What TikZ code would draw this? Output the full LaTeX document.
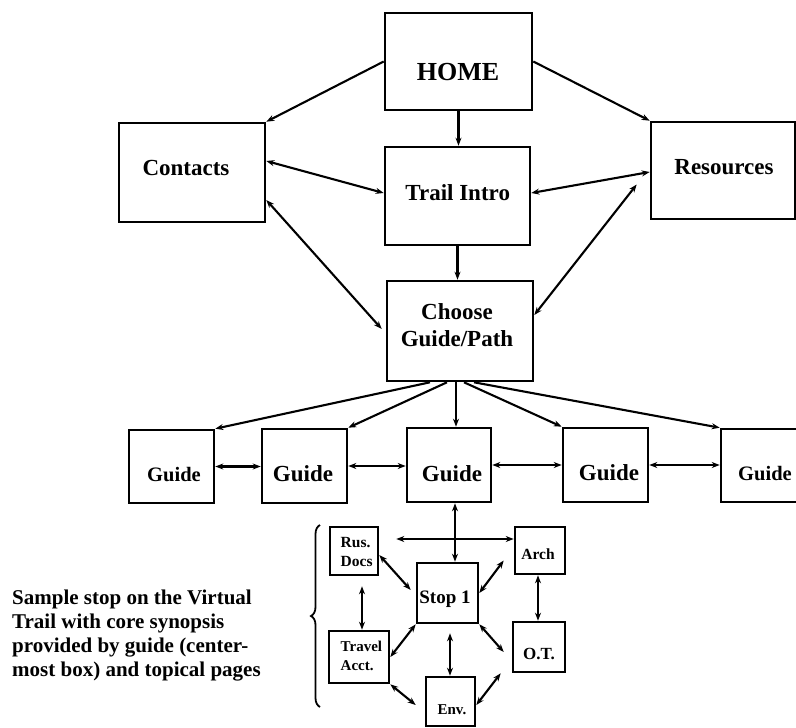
\documentclass[tikz,border=0pt]{standalone}
\usepackage{fontspec}
\setmainfont{Liberation Serif}
\usetikzlibrary{arrows.meta,calc,decorations.pathreplacing}
\begin{document}
\begin{tikzpicture}[x=1pt,y=-1pt,
  >={Stealth[length=8pt,width=6pt]},
  box/.style={draw, line width=2.6pt, inner sep=0pt},
  con/.style={line width=2.1pt},
  lbl/.style={inner sep=0pt, text depth=0pt, font=\bfseries\fontsize{23}{27}\selectfont},
  lblbig/.style={inner sep=0pt, text depth=0pt, font=\bfseries\fontsize{26}{29}\selectfont},
  lblsm/.style={inner sep=0pt, text depth=0pt, font=\bfseries\fontsize{20.5}{24}\selectfont},
  lbltiny/.style={inner sep=0pt, font=\bfseries\fontsize{15.5}{19}\selectfont}
]
\path[fill=white] (0,0) rectangle (796,728);
\useasboundingbox (0,0) rectangle (796,728);

% boxes
\node[box, minimum width=147pt, minimum height=97pt] (home) at (458.5,61.5) {};
\node[box, minimum width=146pt, minimum height=99pt] (contacts) at (192,172.5) {};
\node[box, minimum width=145pt, minimum height=98pt] (trail) at (457.5,196) {};
\node[box, minimum width=144pt, minimum height=97pt] (resources) at (723,170.5) {};
\node[box, minimum width=146pt, minimum height=100pt] (choose) at (460,331) {};
\node[box, minimum width=85pt, minimum height=73pt] (g1) at (171.5,466.5) {};
\node[box, minimum width=85pt, minimum height=74pt] (g2) at (304.5,466) {};
\node[box, minimum width=84pt, minimum height=74pt] (g3) at (449,465) {};
\node[box, minimum width=85pt, minimum height=74pt] (g4) at (605.5,465) {};
\node[box, minimum width=88pt, minimum height=73pt] (g5) at (765,465.5) {};
\node[box, minimum width=48pt, minimum height=48pt] (rus) at (354,551) {};
\node[box, minimum width=50pt, minimum height=47pt] (arch) at (540,550.5) {};
\node[box, minimum width=61pt, minimum height=60pt] (stop) at (447.5,593) {};
\node[box, minimum width=60pt, minimum height=52pt] (travel) at (359,657) {};
\node[box, minimum width=52pt, minimum height=50pt] (ot) at (539,647) {};
\node[box, minimum width=49pt, minimum height=49pt] (env) at (450.5,701.5) {};

% labels
\node[lblbig] (home-t) at (458,72) {HOME};
\node[lbl] (contacts-t) at (186,168) {Contacts};
\node[lbl] (trail-t) at (457.7,193) {Trail Intro};
\node[lbl] (resources-t) at (724,167) {Resources};
\node[inner sep=0pt, align=center, font=\bfseries\fontsize{23}{27}\selectfont] (choose-t) at (457,325.5) {Choose\\Guide/Path};
\node[lblsm] (g1-t) at (174,474) {Guide};
\node[lbl] (g2-t) at (303,474) {Guide};
\node[lbl] (g3-t) at (452,474) {Guide};
\node[lbl] (g4-t) at (609,473) {Guide};
\node[lblsm] (g5-t) at (765,473) {Guide};
\node[lbltiny, align=left, anchor=west] (rus-t) at (340.5,551.5) {Rus.\\Docs};
\node[lbltiny, text depth=0pt] (arch-t) at (538,554) {Arch};
\node[inner sep=0pt, text depth=0pt, font=\bfseries\fontsize{19}{22}\selectfont] (stop-t) at (445,597) {Stop 1};
\node[lbltiny, align=left, anchor=west, font=\bfseries\fontsize{15}{19}\selectfont] (travel-t) at (340.5,655.5) {Travel\\Acct.};
\node[inner sep=0pt, text depth=0pt, font=\bfseries\fontsize{17}{20}\selectfont] (ot-t) at (539,654) {O.T.};
\node[lbltiny, text depth=0pt, font=\bfseries\fontsize{15}{19}\selectfont] (env-t) at (452,710) {Env.};

% top connectors
\draw[con,->] (home.west) -- (contacts.north east);
\draw[con,->] (home.east) -- (resources.north west);
\draw[con,->] (home.south) -- (home.south |- trail.north);
\draw[con,<->] ([yshift=11.5pt]contacts.east) -- ([yshift=3pt]trail.west);
\draw[con,<->] ([yshift=3pt]trail.east) -- ([yshift=-1.5pt]resources.west);
\draw[con,<->] ([yshift=-27.5pt]contacts.east) -- ([yshift=2pt,xshift=-4pt]choose.west);
\coordinate (rfree) at ($(resources.west)+(-13,14)$);
\draw[con,<->] ([yshift=16pt]choose.east) -- (rfree);
\draw[con,->] (trail.south) -- (trail.south |- choose.north);

% fan to guides
\draw[con,->] ([xshift=-30pt]choose.south) -- (g1.north east);
\draw[con,->] ([xshift=-13pt]choose.south) -- (g2.north east);
\coordinate (c3) at ([xshift=-4pt]choose.south);
\draw[con,->] (c3) -- (c3 |- g3.north);
\draw[con,->] ([xshift=4pt]choose.south) -- (g4.north west);
\draw[con,->] ([xshift=14pt]choose.south) -- (g5.north west);

% guide row
\draw[con,<->] (g1.east) -- (g1.east -| g2.west);
\draw[con,<->] (g2.east) -- (g2.east -| g3.west);
\draw[con,<->] (g3.east) -- (g3.east -| g4.west);
\draw[con,<->] (g4.east) -- (g4.east -| g5.west);

% guide to stop
\coordinate (gs) at ([xshift=6pt]g3.south);
\draw[con,<->] (gs) -- (gs |- stop.north);

% lower cluster
\coordinate (hfree) at ($(rus.east)+(17,-12)$);
\draw[con,<->] (hfree) -- (hfree -| arch.west);
\draw[con,<->] ([yshift=-4pt]rus.east) -- ($(stop.west)+(-5,-3)$);
\draw[con,<->] ($(arch.west)+(-10,10)$) -- (stop.east);
\coordinate (rt) at ($(rus.south)+(8,10)$);
\draw[con,<->] (rt) -- (rt |- travel.north);
\coordinate (ao) at ([xshift=-2pt]arch.south);
\draw[con,<->] (ao) -- (ao |- ot.north);
\draw[con,<->] (stop.south west) -- (travel.east);
\draw[con,<->] (stop.south east) -- ($(ot.west)+(-8,5)$);
\coordinate (se) at ($(stop.south)+(2.5,9)$);
\draw[con,<->] (se) -- (se |- env.north);
\draw[con,<->] (travel.south east) -- ($(env.west)+(-9,3.5)$);
\draw[con,<->] ([yshift=-3.5pt]env.east) -- ($(ot.south west)+(-11,0)$);

% brace and note
\draw[line width=1.8pt, decorate, decoration={brace, amplitude=9pt}] (320,707) -- (320,525);
\node[anchor=north west, align=left, inner sep=0pt, font=\bfseries\fontsize{21}{24}\selectfont] (note) at (12,589.5) {Sample stop on the Virtual\\Trail with core synopsis\\provided by guide (center-\\most box) and topical pages};
\end{tikzpicture}
\end{document}
